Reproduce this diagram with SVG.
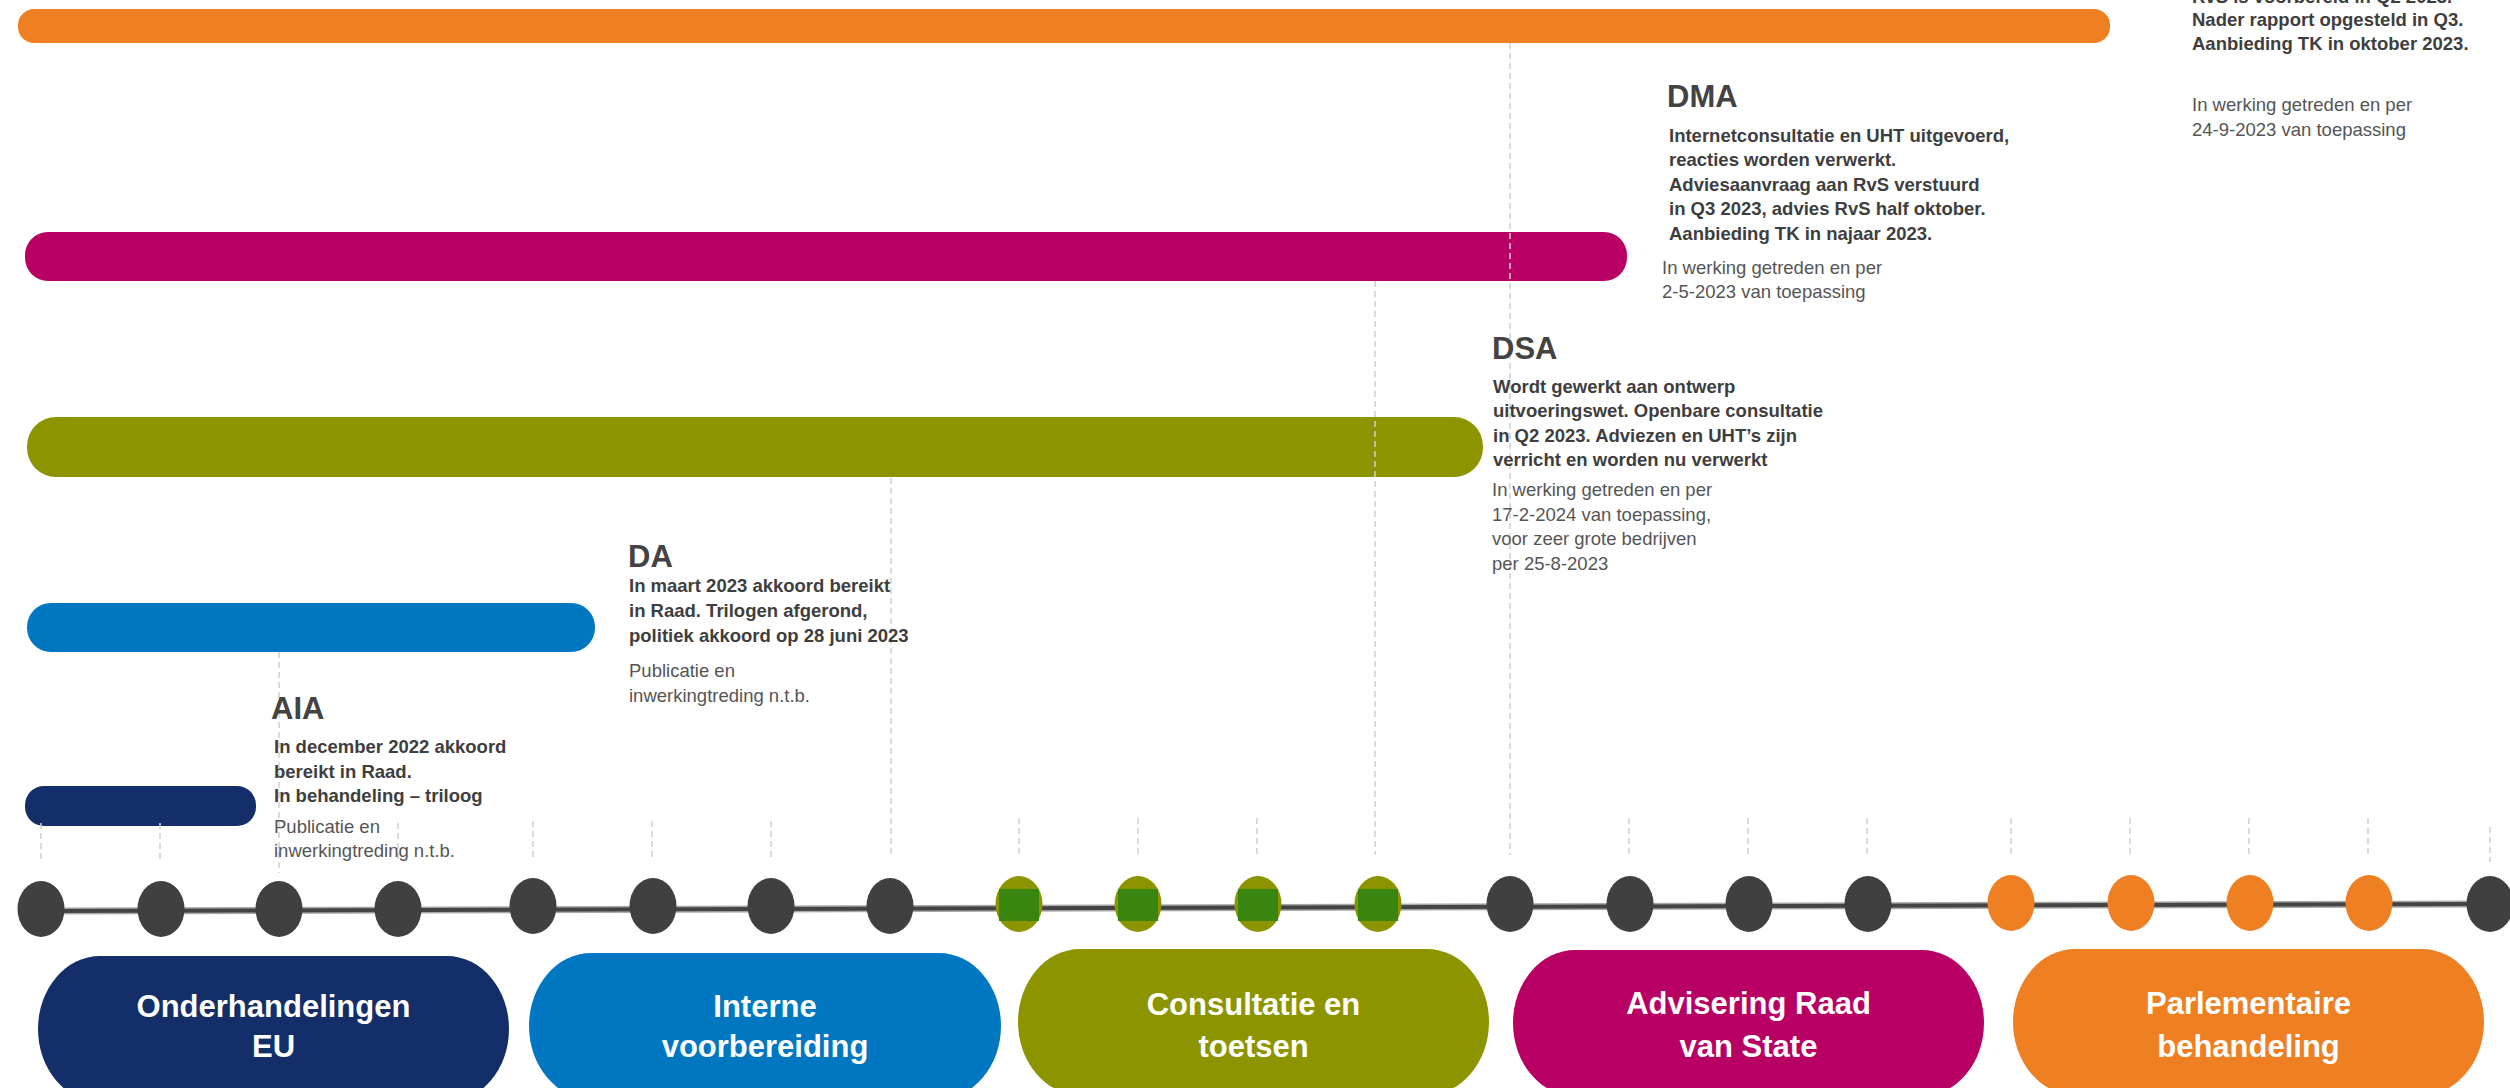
<svg xmlns="http://www.w3.org/2000/svg" width="2510" height="1088" viewBox="0 0 2510 1088">
<style>
text{font-family:"Liberation Sans",Arial,sans-serif}
.h{font-size:31px;font-weight:bold;fill:#434343}
.b{font-size:18.5px;font-weight:bold;fill:#3e3e3e}
.g{font-size:18.5px;fill:#555}
.p{font-size:31px;font-weight:bold;fill:#fff;text-anchor:middle}
.dash{stroke:#cfcfcf;stroke-width:1.5;stroke-dasharray:6 4;fill:none}
.dk{fill:#404040}
.og{fill:#8c9500}
.gr{fill:#38860f}
.or{fill:#ee7f22}
</style>
<rect width="2510" height="1088" fill="#fff"/>

<g id="bars">
<rect id="bar-orange" x="18" y="9" width="2092" height="34" rx="16" fill="#ee7f22"/>
<rect id="bar-magenta" x="25" y="232" width="1602" height="49" rx="23" fill="#b80064"/>
<rect id="bar-olive" x="27" y="417" width="1456" height="60" rx="29" fill="#8c9500"/>
<rect id="bar-blue" x="27" y="603" width="568" height="49" rx="24" fill="#0077c0"/>
<rect id="bar-navy" x="25" y="786" width="231" height="40" rx="19" fill="#132e68"/>
</g>

<g id="connectors">
<line class="dash" x1="279" y1="652" x2="279" y2="873"/>
<line class="dash" x1="891" y1="478" x2="891" y2="857"/>
<line class="dash" x1="1375" y1="281" x2="1375" y2="855"/>
<line class="dash" x1="1510" y1="43" x2="1510" y2="855"/>
<line class="dash" x1="41" y1="823" x2="41" y2="860"/>
<line class="dash" x1="160" y1="823" x2="160" y2="860"/>
<line class="dash" x1="398" y1="823" x2="398" y2="860"/>
<line class="dash" x1="533" y1="821" x2="533" y2="857"/>
<line class="dash" x1="652" y1="821" x2="652" y2="857"/>
<line class="dash" x1="771" y1="821" x2="771" y2="857"/>
<line class="dash" x1="1019" y1="818" x2="1019" y2="855"/>
<line class="dash" x1="1138" y1="818" x2="1138" y2="855"/>
<line class="dash" x1="1257" y1="818" x2="1257" y2="855"/>
<line class="dash" x1="1629" y1="818" x2="1629" y2="855"/>
<line class="dash" x1="1748" y1="818" x2="1748" y2="855"/>
<line class="dash" x1="1867" y1="818" x2="1867" y2="855"/>
<line class="dash" x1="2011" y1="818" x2="2011" y2="855"/>
<line class="dash" x1="2130" y1="818" x2="2130" y2="855"/>
<line class="dash" x1="2249" y1="818" x2="2249" y2="855"/>
<line class="dash" x1="2368" y1="818" x2="2368" y2="855"/>
<line class="dash" x1="2490" y1="827" x2="2490" y2="862"/>
<line id="timeline-under" x1="41" y1="911" x2="2490" y2="904" stroke="#a8a8a8" stroke-width="7"/>
<line id="timeline" x1="41" y1="911" x2="2490" y2="904" stroke="#444" stroke-width="4"/>
</g>

<g id="milestones">
<ellipse class="dk" cx="41" cy="909" rx="23.5" ry="28"/>
<ellipse class="dk" cx="161" cy="909" rx="23.5" ry="28"/>
<ellipse class="dk" cx="279" cy="909" rx="23.5" ry="28"/>
<ellipse class="dk" cx="398" cy="909" rx="23.5" ry="28"/>
<ellipse class="dk" cx="533" cy="906" rx="23.5" ry="28"/>
<ellipse class="dk" cx="653" cy="906" rx="23.5" ry="28"/>
<ellipse class="dk" cx="771" cy="906" rx="23.5" ry="28"/>
<ellipse class="dk" cx="890" cy="906" rx="23.5" ry="28"/>
<g id="m-green-1"><ellipse class="og" cx="1019" cy="904" rx="23.5" ry="28"/><rect class="gr" x="999" y="889" width="40" height="32"/></g>
<g id="m-green-2"><ellipse class="og" cx="1138" cy="904" rx="23.5" ry="28"/><rect class="gr" x="1118" y="889" width="40" height="32"/></g>
<g id="m-green-3"><ellipse class="og" cx="1258" cy="904" rx="23.5" ry="28"/><rect class="gr" x="1238" y="889" width="40" height="32"/></g>
<g id="m-green-4"><ellipse class="og" cx="1378" cy="904" rx="23.5" ry="28"/><rect class="gr" x="1358" y="889" width="40" height="32"/></g>
<ellipse class="dk" cx="1510" cy="904" rx="23.5" ry="28"/>
<ellipse class="dk" cx="1630" cy="904" rx="23.5" ry="28"/>
<ellipse class="dk" cx="1749" cy="904" rx="23.5" ry="28"/>
<ellipse class="dk" cx="1868" cy="904" rx="23.5" ry="28"/>
<ellipse class="or" cx="2011" cy="903" rx="23.5" ry="28"/>
<ellipse class="or" cx="2131" cy="903" rx="23.5" ry="28"/>
<ellipse class="or" cx="2250" cy="903" rx="23.5" ry="28"/>
<ellipse class="or" cx="2369" cy="903" rx="23.5" ry="28"/>
<ellipse class="dk" cx="2490" cy="904" rx="23.5" ry="28"/>
</g>

<g id="phase-onderhandelingen">
<rect x="38" y="956" width="471" height="146" rx="62" ry="73" fill="#132e68"/>
<text class="p" x="273.5" y="1017">Onderhandelingen</text>
<text class="p" x="273.5" y="1057">EU</text>
</g>
<g id="phase-interne">
<rect x="529" y="953" width="472" height="146" rx="62" ry="73" fill="#0077c0"/>
<text class="p" x="765" y="1017">Interne</text>
<text class="p" x="765" y="1057">voorbereiding</text>
</g>
<g id="phase-consultatie">
<rect x="1018" y="949" width="471" height="146" rx="62" ry="73" fill="#8c9500"/>
<text class="p" x="1253.5" y="1015">Consultatie en</text>
<text class="p" x="1253.5" y="1057">toetsen</text>
</g>
<g id="phase-raad">
<rect x="1513" y="950" width="471" height="146" rx="62" ry="73" fill="#b80064"/>
<text class="p" x="1748.5" y="1014">Advisering Raad</text>
<text class="p" x="1748.5" y="1057">van State</text>
</g>
<g id="phase-parlement">
<rect x="2013" y="949" width="471" height="146" rx="62" ry="73" fill="#ee7f22"/>
<text class="p" x="2248.5" y="1014">Parlementaire</text>
<text class="p" x="2248.5" y="1057">behandeling</text>
</g>

<g id="note-top">
<text class="b" x="2192" y="3">RvS is voorbereid in Q2 2023.</text>
<text class="b" x="2192" y="25.5">Nader rapport opgesteld in Q3.</text>
<text class="b" x="2192" y="49.5">Aanbieding TK in oktober 2023.</text>
<text class="g" x="2192" y="111">In werking getreden en per</text>
<text class="g" x="2192" y="135.5">24-9-2023 van toepassing</text>
</g>

<g id="note-dma">
<text class="h" x="1667" y="107">DMA</text>
<text class="b" x="1669" y="141.5">Internetconsultatie en UHT uitgevoerd,</text>
<text class="b" x="1669" y="166">reacties worden verwerkt.</text>
<text class="b" x="1669" y="190.5">Adviesaanvraag aan RvS verstuurd</text>
<text class="b" x="1669" y="215">in Q3 2023, advies RvS half oktober.</text>
<text class="b" x="1669" y="239.5">Aanbieding TK in najaar 2023.</text>
<text class="g" x="1662" y="274">In werking getreden en per</text>
<text class="g" x="1662" y="298">2-5-2023 van toepassing</text>
</g>

<g id="note-dsa">
<text class="h" x="1492" y="359">DSA</text>
<text class="b" x="1493" y="392.5">Wordt gewerkt aan ontwerp</text>
<text class="b" x="1493" y="417">uitvoeringswet. Openbare consultatie</text>
<text class="b" x="1493" y="441.5">in Q2 2023. Adviezen en UHT’s zijn</text>
<text class="b" x="1493" y="466">verricht en worden nu verwerkt</text>
<text class="g" x="1492" y="496">In werking getreden en per</text>
<text class="g" x="1492" y="521">17-2-2024 van toepassing,</text>
<text class="g" x="1492" y="545">voor zeer grote bedrijven</text>
<text class="g" x="1492" y="570">per 25-8-2023</text>
</g>

<g id="note-da">
<text class="h" x="628" y="567">DA</text>
<text class="b" x="629" y="592">In maart 2023 akkoord bereikt</text>
<text class="b" x="629" y="617">in Raad. Trilogen afgerond,</text>
<text class="b" x="629" y="642">politiek akkoord op 28 juni 2023</text>
<text class="g" x="629" y="677">Publicatie en</text>
<text class="g" x="629" y="702">inwerkingtreding n.t.b.</text>
</g>

<g id="note-aia">
<text class="h" x="271" y="719">AIA</text>
<text class="b" x="274" y="753">In december 2022 akkoord</text>
<text class="b" x="274" y="777.5">bereikt in Raad.</text>
<text class="b" x="274" y="802">In behandeling – triloog</text>
<text class="g" x="274" y="833">Publicatie en</text>
<text class="g" x="274" y="857">inwerkingtreding n.t.b.</text>
</g>
</svg>
